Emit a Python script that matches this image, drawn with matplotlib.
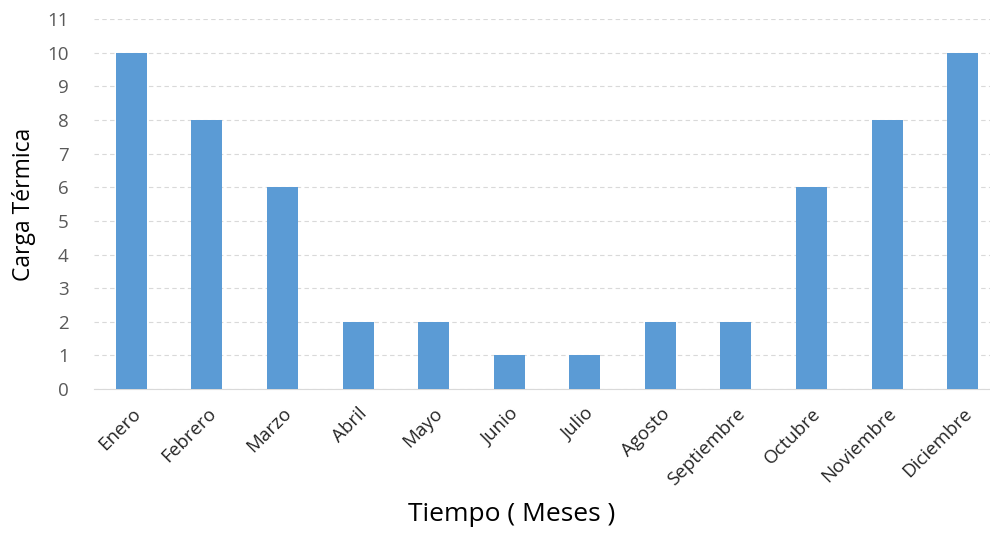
import matplotlib.pyplot as plt
import numpy as np

# carga térmica mensual
meses = ["Enero", "Febrero", "Marzo", "Abril", "Mayo", "Junio", "Julio",
         "Agosto", "Septiembre", "Octubre", "Noviembre", "Diciembre"]
carga = [10, 8, 6, 2, 2, 1, 1, 2, 2, 6, 8, 10]

plt.rcParams['font.family'] = ['Open Sans', 'DejaVu Sans']

fig = plt.figure(figsize=(9.9, 5.33), dpi=100)
ax = fig.add_axes([0.0945, 0.270, 0.916, 0.694])

x = np.arange(len(meses))
ax.bar(x, carga, width=0.41, color='#5B9BD5', zorder=3)

ax.set_xlim(-0.5, len(meses) - 0.5)
ax.set_ylim(0, 11)
ax.set_yticks(range(0, 12))
ax.yaxis.grid(True, linestyle=(0, (4, 3)), color='#D9D9D9', linewidth=0.8, zorder=0)

ax.set_xticks(x)
ax.set_xticklabels(meses, rotation=45, ha='right', rotation_mode='anchor')
ax.tick_params(axis='both', length=0, labelsize=13.5, labelcolor='#595959')
ax.tick_params(axis='x', pad=11, labelcolor='#262626')
ax.tick_params(axis='y', pad=18)

for s in ['top', 'right', 'left']:
    ax.spines[s].set_visible(False)
ax.spines['bottom'].set_color('#D9D9D9')

ax.set_ylabel('Carga Térmica', fontsize=16.5, labelpad=8)
fig.text(0.517, 0.022, 'Tiempo ( Meses )', fontsize=19, ha='center')

plt.savefig('out.png', dpi=100)
